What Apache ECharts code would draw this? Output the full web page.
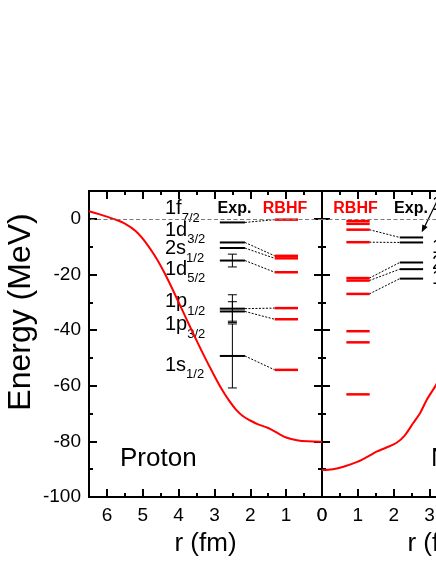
<!DOCTYPE html>
<html>
<head>
<meta charset="utf-8">
<script src="https://cdn.jsdelivr.net/npm/echarts@6/dist/echarts.min.js"></script>
<style>
  html, body { margin: 0; padding: 0; background: #fff; overflow: hidden; }
  #chart { width: 560px; height: 564px; }
</style>
</head>
<body>
<div id="chart"></div>
<script>
// single-particle potentials, r in fm, V in MeV
const protonR = [0, 0.4, 0.7, 1.0, 1.2, 1.5, 1.8, 2.0, 2.2, 2.4, 2.6, 2.8, 3.0, 3.3, 3.6, 3.8, 4.0, 4.2, 4.4, 4.6, 4.9, 5.2, 5.5, 5.8, 6.0, 6.2, 6.5];
const protonV = [-80.1, -80.0, -79.6, -78.6, -77.3, -75.2, -73.8, -72.5, -71.0, -68.6, -65.2, -61.2, -56.5, -49.0, -41.0, -35.5, -30.0, -24.5, -19.3, -14.6, -8.8, -4.4, -1.7, -0.1, 0.8, 1.6, 2.7];
const neutronR = [0, 0.3, 0.6, 1.0, 1.3, 1.52, 1.8, 2.08, 2.3, 2.54, 2.75, 2.92, 3.18, 3.4];
const neutronV = [-90.3, -90.0, -89.1, -87.3, -85.3, -83.7, -82.2, -80.5, -78.0, -73.5, -69.5, -65.1, -59.7, -54.0];

// proton levels
const protonOrb = ['1f', '1d', '2s', '1d', '1p', '1p', '1s'];
const protonJ = ['7/2', '3/2', '1/2', '5/2', '1/2', '3/2', '1/2'];
const protonExp = [-1.3, -8.5, -10.5, -15.0, -32.3, -33.3, -49.3];
const protonExpErr = [0, 0, 0, 2.3, 5.0, 3.5, 11.5];
const protonRBHF = [-0.3, -13.3, -14.2, -19.2, -32.1, -36.1, -54.3];

// neutron levels
const neutronRBHF = [-0.8, -1.8, -3.9, -8.4, -21.3, -22.2, -27.0, -40.4, -44.4, -63.1];
const neutronExp = [-6.7, -8.5, -15.7, -18.1, -21.5];
const neutronLinks = [[2, 0], [3, 1], [4, 2], [5, 3], [6, 4]]; // [RBHF index, Exp index]
const neutronOrb = ['1f', '1d', '2s', '1d'];
const neutronJ = ['7/2', '3/2', '1/2', '5/2'];

const FONT = '"Liberation Sans", Arial, sans-serif';
const RED = '#ff0000';

const chart = echarts.init(document.getElementById('chart'));

function xAxis(grid, position, inverse, major) {
  const main = major && position === 'bottom';
  return {
    type: 'value', gridIndex: grid, position: position, inverse: inverse,
    min: 0, max: 6.5, interval: major ? 1 : 0.5,
    axisLine: { show: true, onZero: false, lineStyle: { color: '#000', width: 2 } },
    axisTick: { show: true, inside: true, length: major ? 8 : 4, lineStyle: { color: '#000', width: 2 } },
    axisLabel: { show: main, showMaxLabel: false, color: '#000', fontSize: 19, fontFamily: FONT, margin: 9 },
    splitLine: { show: false },
    name: main ? 'r (fm)' : '',
    nameLocation: 'middle', nameGap: 34,
    nameTextStyle: { color: '#000', fontSize: 26, fontFamily: FONT }
  };
}

function yAxis(grid, position, major, labels) {
  return {
    type: 'value', gridIndex: grid, position: position,
    min: -100, max: 10, interval: major ? 20 : 10,
    axisLine: { show: true, onZero: false, lineStyle: { color: '#000', width: 2 } },
    axisTick: { show: true, inside: true, length: major ? 8 : 4, lineStyle: { color: '#000', width: 2 } },
    axisLabel: { show: !!labels, showMaxLabel: false, color: '#000', fontSize: 19, fontFamily: FONT, margin: 8 },
    splitLine: { show: false }
  };
}

function levels(values, x0, x1, color, width, xi, yi) {
  return {
    type: 'custom', xAxisIndex: xi, yAxisIndex: yi, silent: true,
    data: values.map(v => [v]),
    renderItem: (params, api) => {
      const v = api.value(0);
      const a = api.coord([x0, v]);
      const b = api.coord([x1, v]);
      return { type: 'line', shape: { x1: a[0], y1: a[1], x2: b[0], y2: b[1] },
               style: { stroke: color, lineWidth: width } };
    }
  };
}

function links(pairs, xa, xb, xi, yi) {
  return {
    type: 'custom', xAxisIndex: xi, yAxisIndex: yi, silent: true,
    data: pairs,
    renderItem: (params, api) => {
      const a = api.coord([xa, api.value(0)]);
      const b = api.coord([xb, api.value(1)]);
      return { type: 'line', shape: { x1: a[0], y1: a[1], x2: b[0], y2: b[1] },
               style: { stroke: '#000', lineWidth: 1, lineDash: [2, 1.5] } };
    }
  };
}

function potential(r, v, xi, yi) {
  return {
    type: 'line', xAxisIndex: xi, yAxisIndex: yi, silent: true,
    data: r.map((x, i) => [x, v[i]]),
    smooth: 0.3, showSymbol: false,
    lineStyle: { color: RED, width: 2 },
    markLine: {
      silent: true, symbol: 'none', label: { show: false },
      lineStyle: { color: '#7a7a7a', type: [4, 2.5], width: 1 },
      data: [{ yAxis: 0 }]
    }
  };
}

const errorBars = {
  type: 'custom', xAxisIndex: 0, yAxisIndex: 0, silent: true,
  data: protonExp.map((e, i) => [e, protonExpErr[i]]).filter(d => d[1] > 0),
  renderItem: (params, api) => {
    const e = api.value(0), d = api.value(1);
    const t = api.coord([2.5, e + d]);
    const b = api.coord([2.5, e - d]);
    const st = { stroke: '#000', lineWidth: 1 };
    return { type: 'group', children: [
      { type: 'line', shape: { x1: t[0], y1: t[1], x2: b[0], y2: b[1] }, style: st },
      { type: 'line', shape: { x1: t[0] - 4.5, y1: t[1], x2: t[0] + 4.5, y2: t[1] }, style: st },
      { type: 'line', shape: { x1: b[0] - 4.5, y1: b[1], x2: b[0] + 4.5, y2: b[1] }, style: st }
    ] };
  }
};

// orbital label with subscript j
function orbLabel(orb, j, x, yc) {
  return {
    type: 'text', x: x, y: yc - 12.5,
    style: {
      text: '{m|' + orb + '}{s|' + j + '}',
      verticalAlign: 'top', fill: '#000',
      rich: {
        m: { fontSize: 20, fontFamily: FONT, fill: '#000', lineHeight: 25, verticalAlign: 'top' },
        s: { fontSize: 13, fontFamily: FONT, fill: '#000', lineHeight: 13, padding: [13, 0, 0, 0], verticalAlign: 'top' }
      }
    }
  };
}

// label layout (pixel centres of the orbital labels)
const protonLabelY = [211, 232.5, 251, 271.5, 304, 327, 367.5];
const neutronLabelY = [207, 250, 266, 281];
const orbLabels = protonOrb.map((o, i) => orbLabel(o, protonJ[i], 165, protonLabelY[i]))
  .concat(neutronOrb.map((o, i) => orbLabel(o, neutronJ[i], 432, neutronLabelY[i])));

function head(text, x, color) {
  return { type: 'text', x: x, y: 209,
    style: { text: text, align: 'center', verticalAlign: 'middle', fill: color,
             font: 'bold 16px ' + FONT } };
}

const option = {
  backgroundColor: '#fff',
  animation: false,
  grid: [
    { left: 89, top: 191, width: 233, height: 306 },
    { left: 322, top: 191, width: 233, height: 306 }
  ],
  xAxis: [
    xAxis(0, 'bottom', true, true), xAxis(0, 'bottom', true, false),
    xAxis(0, 'top', true, true), xAxis(0, 'top', true, false),
    xAxis(1, 'bottom', false, true), xAxis(1, 'bottom', false, false),
    xAxis(1, 'top', false, true), xAxis(1, 'top', false, false)
  ],
  yAxis: [
    yAxis(0, 'left', true, true), yAxis(0, 'left', false),
    yAxis(0, 'right', true), yAxis(0, 'right', false),
    yAxis(1, 'left', true), yAxis(1, 'left', false),
    yAxis(1, 'right', true), yAxis(1, 'right', false)
  ],
  series: [
    potential(protonR, protonV, 0, 0),
    potential(neutronR, neutronV, 4, 4),
    links(protonExp.map((e, i) => [e, protonRBHF[i]]), 2.15, 1.32, 0, 0),
    links(neutronLinks.map(p => [neutronRBHF[p[0]], neutronExp[p[1]]]), 1.32, 2.17, 4, 4),
    errorBars,
    levels(protonExp, 2.85, 2.15, '#000', 2, 0, 0),
    levels(protonRBHF, 1.32, 0.67, RED, 2.5, 0, 0),
    levels(neutronRBHF, 0.68, 1.33, RED, 2.5, 4, 4),
    levels(neutronExp, 2.17, 2.82, '#000', 2, 4, 4)
  ],
  graphic: [
    { type: 'text', x: 21, y: 312, rotation: Math.PI / 2,
      style: { text: 'Energy (MeV)', align: 'center', verticalAlign: 'middle', fill: '#000', font: '32px ' + FONT } },
    head('Exp.', 234.5, '#000'), head('RBHF', 285, RED),
    head('RBHF', 355.5, RED), head('Exp.', 411, '#000'),
    { type: 'text', x: 120, y: 459,
      style: { text: 'Proton', verticalAlign: 'middle', fill: '#000', font: '26px ' + FONT } },
    { type: 'text', x: 431, y: 459,
      style: { text: 'Neutron', verticalAlign: 'middle', fill: '#000', font: '26px ' + FONT } },
    { type: 'line', shape: { x1: 440, y1: 195, x2: 424, y2: 228 }, style: { stroke: '#000', lineWidth: 1.2 } },
    { type: 'polygon', shape: { points: [[421.7, 232.3], [427.7, 227], [422.3, 224.4]] }, style: { fill: '#000' } }
  ].concat(orbLabels)
};

chart.setOption(option);
</script>
</body>
</html>
